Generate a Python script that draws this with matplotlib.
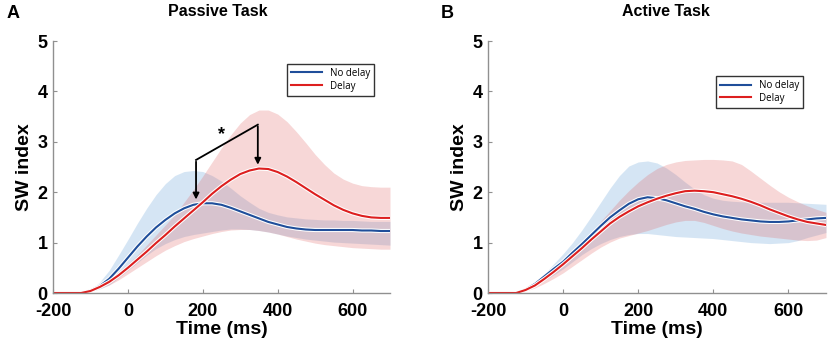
import numpy as np
import matplotlib.pyplot as plt
import matplotlib.patheffects as pe

plt.rcParams['axes.unicode_minus'] = False

# time axis (ms), 25 ms steps
t = np.arange(-200, 701, 25)

# Passive task
passive_nodelay = [0, 0, 0, 0, 0.05, 0.14, 0.28, 0.48, 0.70, 0.92, 1.12, 1.30, 1.45, 1.58, 1.68, 1.75,
                   1.78, 1.78, 1.75, 1.69, 1.62, 1.55, 1.48, 1.41, 1.36, 1.31, 1.28, 1.26, 1.25, 1.25,
                   1.25, 1.25, 1.25, 1.24, 1.24, 1.23, 1.23]
passive_nodelay_hi = [0, 0, 0, 0, 0.07, 0.22, 0.45, 0.75, 1.06, 1.38, 1.68, 1.95, 2.17, 2.33, 2.41, 2.43,
                      2.41, 2.33, 2.22, 2.08, 1.93, 1.80, 1.68, 1.60, 1.55, 1.51, 1.49, 1.47, 1.46, 1.45,
                      1.45, 1.44, 1.44, 1.43, 1.42, 1.42, 1.42]
passive_nodelay_lo = [0, 0, 0, 0, 0.03, 0.08, 0.16, 0.30, 0.45, 0.60, 0.75, 0.88, 0.98, 1.06, 1.12, 1.16,
                      1.19, 1.22, 1.25, 1.27, 1.27, 1.26, 1.24, 1.21, 1.17, 1.13, 1.10, 1.07, 1.05, 1.03,
                      1.01, 1.00, 0.99, 0.98, 0.97, 0.96, 0.95]
passive_delay = [0, 0, 0, 0, 0.04, 0.12, 0.22, 0.35, 0.50, 0.66, 0.82, 0.99, 1.15, 1.32, 1.48, 1.64,
                 1.80, 1.97, 2.12, 2.25, 2.36, 2.43, 2.47, 2.46, 2.40, 2.31, 2.20, 2.08, 1.96, 1.85,
                 1.74, 1.65, 1.58, 1.53, 1.50, 1.49, 1.49]
passive_delay_hi = [0, 0, 0, 0, 0.05, 0.15, 0.28, 0.42, 0.58, 0.75, 0.95, 1.15, 1.35, 1.55, 1.80, 2.05,
                    2.32, 2.60, 2.88, 3.14, 3.37, 3.54, 3.63, 3.63, 3.55, 3.40, 3.20, 2.98, 2.75, 2.55,
                    2.38, 2.26, 2.18, 2.13, 2.11, 2.10, 2.10]
passive_delay_lo = [0, 0, 0, 0, 0.03, 0.09, 0.16, 0.26, 0.38, 0.50, 0.62, 0.74, 0.85, 0.94, 1.02, 1.08,
                    1.13, 1.18, 1.22, 1.25, 1.26, 1.26, 1.24, 1.21, 1.17, 1.12, 1.07, 1.03, 0.99, 0.96,
                    0.94, 0.92, 0.90, 0.89, 0.88, 0.87, 0.87]

# Active task
active_nodelay = [0, 0, 0, 0, 0.07, 0.18, 0.33, 0.48, 0.62, 0.80, 0.97, 1.15, 1.33, 1.50, 1.64, 1.77,
                  1.86, 1.90, 1.88, 1.84, 1.78, 1.72, 1.67, 1.61, 1.56, 1.52, 1.49, 1.46, 1.44, 1.42,
                  1.41, 1.41, 1.42, 1.44, 1.46, 1.48, 1.49]
active_nodelay_hi = [0, 0, 0, 0, 0.08, 0.20, 0.38, 0.58, 0.78, 1.00, 1.25, 1.52, 1.80, 2.08, 2.33, 2.52,
                     2.60, 2.62, 2.58, 2.48, 2.35, 2.20, 2.06, 1.95, 1.88, 1.84, 1.82, 1.81, 1.80, 1.80,
                     1.80, 1.80, 1.80, 1.79, 1.78, 1.77, 1.76]
active_nodelay_lo = [0, 0, 0, 0, 0.05, 0.13, 0.25, 0.36, 0.48, 0.62, 0.76, 0.88, 0.98, 1.06, 1.12, 1.16,
                     1.18, 1.18, 1.16, 1.14, 1.12, 1.11, 1.10, 1.09, 1.08, 1.06, 1.04, 1.02, 1.00, 0.99,
                     0.98, 0.99, 1.00, 1.04, 1.10, 1.15, 1.20]
active_delay = [0, 0, 0, 0, 0.06, 0.15, 0.28, 0.42, 0.57, 0.73, 0.89, 1.06, 1.22, 1.38, 1.51, 1.62,
                1.72, 1.80, 1.87, 1.93, 1.98, 2.02, 2.03, 2.02, 2.00, 1.96, 1.92, 1.87, 1.81, 1.74,
                1.66, 1.59, 1.52, 1.46, 1.41, 1.38, 1.35]
active_delay_hi = [0, 0, 0, 0, 0.07, 0.17, 0.32, 0.48, 0.63, 0.82, 1.00, 1.20, 1.42, 1.63, 1.84, 2.03,
                   2.20, 2.35, 2.47, 2.55, 2.60, 2.63, 2.64, 2.65, 2.65, 2.64, 2.62, 2.55, 2.42, 2.28,
                   2.14, 2.01, 1.90, 1.81, 1.73, 1.66, 1.60]
active_delay_lo = [0, 0, 0, 0, 0.04, 0.10, 0.19, 0.29, 0.40, 0.53, 0.66, 0.79, 0.91, 1.01, 1.09, 1.14,
                   1.19, 1.24, 1.30, 1.36, 1.41, 1.44, 1.44, 1.40, 1.34, 1.28, 1.23, 1.19, 1.16, 1.13,
                   1.11, 1.09, 1.07, 1.05, 1.04, 1.05, 1.10]

BLUE = '#1f4e9a'
RED = '#dd1f1f'
FONT = ['Liberation Sans', 'Arimo', 'DejaVu Sans']

fig = plt.figure(figsize=(8.29, 3.46), dpi=100)
axA = fig.add_axes([53 / 829, 53 / 346, 337 / 829, 252 / 346])
axB = fig.add_axes([488 / 829, 53 / 346, 338 / 829, 252 / 346])

panels = [
    (axA, passive_nodelay, passive_nodelay_lo, passive_nodelay_hi,
     passive_delay, passive_delay_lo, passive_delay_hi),
    (axB, active_nodelay, active_nodelay_lo, active_nodelay_hi,
     active_delay, active_delay_lo, active_delay_hi),
]

outline = [pe.Stroke(linewidth=3.0, foreground='white'), pe.Normal()]

for ax, nd, nd_lo, nd_hi, d, d_lo, d_hi in panels:
    ax.fill_between(t, nd_lo, nd_hi, color='#5b9bd5', alpha=0.25, linewidth=0)
    ax.fill_between(t, d_lo, d_hi, color='#e06060', alpha=0.25, linewidth=0)
    ax.plot(t, nd, color=BLUE, lw=1.5, label='No delay', path_effects=outline)
    ax.plot(t, d, color=RED, lw=1.5, label='Delay', path_effects=outline)
    ax.set_xlim(-200, 700)
    ax.set_ylim(0, 5)
    ax.set_xticks([-200, 0, 200, 400, 600])
    ax.set_yticks([0, 1, 2, 3, 4, 5])
    for s in ['top', 'right']:
        ax.spines[s].set_visible(False)
    for s in ['left', 'bottom']:
        ax.spines[s].set_color('#909090')
        ax.spines[s].set_linewidth(1.0)
    ax.tick_params(direction='in', length=3, color='#909090')
    ax.tick_params(axis='x', pad=7)
    ax.tick_params(axis='y', pad=4)
    for lab in ax.get_xticklabels() + ax.get_yticklabels():
        lab.set_fontfamily(FONT)
        lab.set_fontweight('bold')
        lab.set_fontsize(13)
    ax.set_xlabel('Time (ms)', fontfamily=FONT, fontweight='bold', fontsize=14, labelpad=1)
    ax.set_ylabel('SW index', fontfamily=FONT, fontweight='bold', fontsize=14, labelpad=3)

legA = axA.legend(loc='upper left', bbox_to_anchor=(0.694, 0.909), frameon=True, fancybox=False,
                  prop={'family': 'Open Sans', 'size': 7}, handlelength=3.2, borderpad=0.4,
                  labelspacing=0.2, borderaxespad=0)
legB = axB.legend(loc='upper left', bbox_to_anchor=(0.675, 0.861), frameon=True, fancybox=False,
                  prop={'family': 'Open Sans', 'size': 7}, handlelength=3.2, borderpad=0.4,
                  labelspacing=0.2, borderaxespad=0)
for leg in (legA, legB):
    leg.get_frame().set_edgecolor('black')
    leg.get_frame().set_linewidth(1.0)

# significance bracket between peaks in the passive task
axA.plot([182, 347], [2.64, 3.34], color='black', lw=1.3)
axA.annotate('', xy=(182, 1.80), xytext=(182, 2.66),
             arrowprops=dict(arrowstyle='-|>', color='black', lw=1.3, mutation_scale=9))
axA.annotate('', xy=(347, 2.49), xytext=(347, 3.36),
             arrowprops=dict(arrowstyle='-|>', color='black', lw=1.3, mutation_scale=9))
axA.text(250, 3.15, '*', ha='center', va='center', fontsize=13, fontweight='bold', fontfamily=FONT)

fig.text(218 / 829, 1 - 12 / 346, 'Passive Task', ha='center', va='center',
         fontfamily=FONT, fontweight='bold', fontsize=11.5)
fig.text(666 / 829, 1 - 12 / 346, 'Active Task', ha='center', va='center',
         fontfamily=FONT, fontweight='bold', fontsize=11.5)
fig.text(13 / 829, 1 - 14 / 346, 'A', ha='center', va='center',
         fontfamily=FONT, fontweight='bold', fontsize=13)
fig.text(447 / 829, 1 - 14 / 346, 'B', ha='center', va='center',
         fontfamily=FONT, fontweight='bold', fontsize=13)

fig.savefig('out.png', dpi=100)
